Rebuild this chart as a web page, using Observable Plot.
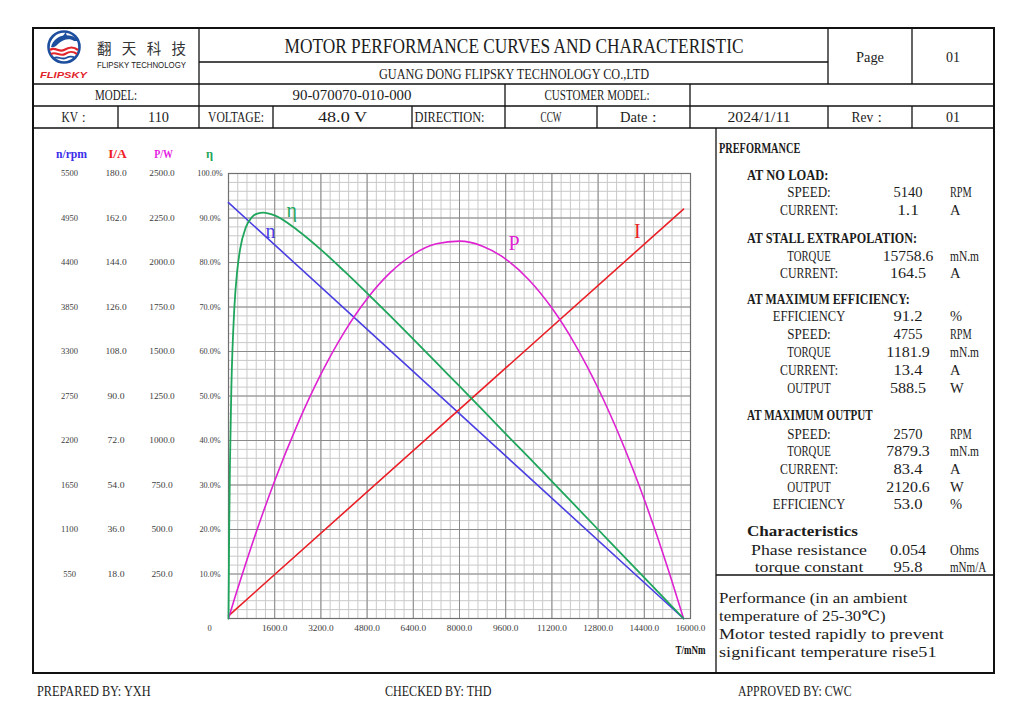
<!DOCTYPE html>
<html><head><meta charset="utf-8">
<script src="https://cdn.jsdelivr.net/npm/d3@7"></script>
<script src="https://cdn.jsdelivr.net/npm/@observablehq/plot@0.6"></script>
<style>
html,body{margin:0;padding:0;background:#fff;}
#page{position:relative;width:1024px;height:726px;overflow:hidden;background:#fff;}
#chart{position:absolute;left:33px;top:128px;}
#overlay{position:absolute;left:0;top:0;pointer-events:none;}
</style></head><body>
<div id="page"><div id="chart"></div><svg id="overlay" width="1024" height="726"></svg></div>
<script>
// ---------- DATA ----------
const torqueTicks = [0,1600,3200,4800,6400,8000,9600,11200,12800,14400,16000];
const rpmTicks = [550,1100,1650,2200,2750,3300,3850,4400,4950,5500];
const currentTicks = [18,36,54,72,90,108,126,144,162,180];
const powerTicks = [250,500,750,1000,1250,1500,1750,2000,2250,2500];
const effTicks = [10,20,30,40,50,60,70,80,90,100];

const speedTorque = [0, 15758.6];
const speedRpm = [5140, 0];
const currentTorque = [0, 15758.6];
const currentAmp = [1.1, 165.6];
const curveTorque = [0,25,50,100,200,300,400,600,800,1000,1200,1400,1600,2400,3200,4000,4800,5600,6400,7200,8000,8800,9600,10400,11200,12000,12800,13600,14400,15200,15758.6];
const powerW = [0,13.4,26.8,53.5,106.3,158.4,209.8,310.7,408.8,504.1,596.7,686.6,773.8,1095.1,1372.7,1606.5,1796.6,1943.1,2045.8,2104.8,2120.0,2091.6,2019.5,1903.5,1743.9,1540.5,1293.5,1002.8,668.2,290.0,0];
const efficiencyPct = [0,20.6,34.5,52.0,69.5,78.0,82.9,87.9,90.1,91.0,91.2,91.0,90.6,87.2,82.9,78.1,73.1,68.0,62.8,57.5,52.2,46.9,41.5,36.2,30.8,25.4,20.0,14.6,9.2,3.8,0];

const axisHeaders = ["n/rpm","I/A","P/W","η"];
const seriesNames = ["n","η","P","I"];
const labelTorque = [1458, 2187, 9891, 14161];
const labelLevel = [87.0, 91.7, 84.3, 87.0];
const xAxisTitle = "T/mNm";

const titleText = "MOTOR PERFORMANCE CURVES AND CHARACTERISTIC";
const companyText = "GUANG DONG FLIPSKY TECHNOLOGY CO.,LTD";
const brandCn = "翻 天 科 技";
const brandEn = "FLIPSKY TECHNOLOGY";
const brandLogo = "FLIPSKY";
const pageLabel = ["Page","01"];
const modelRow = ["MODEL:","90-070070-010-000","CUSTOMER MODEL:",""];
const infoRow = ["KV：","110","VOLTAGE:","48.0  V","DIRECTION:","CCW","Date：","2024/1/11","Rev：","01"];
const perfTitle = "PREFORMANCE";
const perfSections = [
  {title:"AT NO LOAD:", rows:[["SPEED:","5140","RPM"],["CURRENT:","1.1","A"]]},
  {title:"AT STALL EXTRAPOLATION:", rows:[["TORQUE","15758.6","mN.m"],["CURRENT:","164.5","A"]]},
  {title:"AT MAXIMUM EFFICIENCY:", rows:[["EFFICIENCY","91.2","%"],["SPEED:","4755","RPM"],["TORQUE","1181.9","mN.m"],["CURRENT:","13.4","A"],["OUTPUT","588.5","W"]]},
  {title:"AT MAXIMUM OUTPUT", rows:[["SPEED:","2570","RPM"],["TORQUE","7879.3","mN.m"],["CURRENT:","83.4","A"],["OUTPUT","2120.6","W"],["EFFICIENCY","53.0","%"]]},
  {title:"Characteristics", rows:[["Phase resistance","0.054","Ohms"],["torque constant","95.8","mNm/A"]]}
];
const noteLines = ["Performance (in an ambient","temperature of 25-30℃)","Motor tested rapidly to prevent","significant temperature rise51"];
const footer = ["PREPARED BY: YXH","CHECKED BY: THD","APPROVED BY: CWC"];

// ---------- CHART ----------
const SERIF = "'Liberation Serif', 'DejaVu Serif', serif";
const fmt1 = d3.format(".1f");
const rpmMax = d3.max(rpmTicks), ampMax = d3.max(currentTicks), powMax = d3.max(powerTicks);
const speedRows = speedTorque.map((t,i)=>({t, v: speedRpm[i]/rpmMax*100}));
const currentRows = currentTorque.map((t,i)=>({t, v: currentAmp[i]/ampMax*100}));
const powerRows = curveTorque.map((t,i)=>({t, v: powerW[i]/powMax*100}));
const effRows = curveTorque.map((t,i)=>({t, v: efficiencyPct[i]}));

const colors = {n:"#4a3fe2", eta:"#1fa65c", P:"#de22d2", I:"#ea1f27"};
const headerColors = ["#3b2fea", "#f01c26", "#e41ee2", "#1fa65c"];
const seriesColors = [colors.n, colors.eta, colors.P, colors.I];
const frameLeft = 228;
const headerCenters = [71, 117, 163, 209];
const valueCenters = [69, 115.5, 161.5, 209.5];
const valueTicks = [rpmTicks, currentTicks, powerTicks, effTicks];
const valueFormats = [d=>String(d), fmt1, fmt1, d=>fmt1(d)+"%"];
const tickColor = "#3c3c3c";

const marks = [
  Plot.ruleX(d3.range(0,16001,320), {stroke:"#c9c9c9", strokeWidth:1}),
  Plot.ruleY(d3.range(0,101,2), {stroke:"#c9c9c9", strokeWidth:1}),
  Plot.ruleX(torqueTicks, {stroke:"#8a8a8a", strokeWidth:1}),
  Plot.ruleY([0, ...effTicks], {stroke:"#8a8a8a", strokeWidth:1}),
  Plot.frame({stroke:"#707070", strokeWidth:1.2}),
  Plot.line(speedRows, {x:"t", y:"v", stroke:colors.n, strokeWidth:1.6}),
  Plot.line(currentRows, {x:"t", y:"v", stroke:colors.I, strokeWidth:1.6}),
  Plot.line(powerRows, {x:"t", y:"v", stroke:colors.P, strokeWidth:1.6, curve:"monotone-x"}),
  Plot.line(effRows, {x:"t", y:"v", stroke:colors.eta, strokeWidth:1.8, curve:"monotone-x"}),
];
seriesNames.forEach((nm,i)=>{
  marks.push(Plot.text([nm], {x:()=>labelTorque[i], y:()=>labelLevel[i], text:d=>d, fill:seriesColors[i], fontSize:20, fontFamily:SERIF}));
});
axisHeaders.forEach((h,i)=>{
  marks.push(Plot.text([h], {frameAnchor:"top-left", textAnchor:"middle", dx: headerCenters[i]-frameLeft, dy:-24, text:d=>d, fill:headerColors[i], fontSize:12.5, fontWeight:"bold", fontFamily:SERIF}));
  marks.push(Plot.text(effTicks, {y:d=>d, frameAnchor:"left", textAnchor:"middle", dx: valueCenters[i]-frameLeft, text:(d,k)=>valueFormats[i](valueTicks[i][k]), fill:tickColor, fontSize:8.5, fontFamily:SERIF}));
});
marks.push(Plot.text(torqueTicks.slice(1), {x:d=>d, frameAnchor:"bottom", textAnchor:"middle", dy:12, text:d=>fmt1(d), fill:tickColor, fontSize:8.5, fontFamily:SERIF}));
marks.push(Plot.text([torqueTicks[0]], {x:d=>d, frameAnchor:"bottom", textAnchor:"middle", dy:12, dx:-19, text:d=>String(d), fill:tickColor, fontSize:8.5, fontFamily:SERIF}));
marks.push(Plot.text([xAxisTitle], {x:()=>16000, frameAnchor:"bottom", textAnchor:"middle", dy:35, text:d=>d, fill:"#111", fontSize:12, fontWeight:"bold", fontFamily:SERIF}));

const chart = Plot.plot({
  width:683, height:545,
  marginLeft:195, marginRight:26, marginTop:45, marginBottom:55,
  x:{domain:[0,16000], axis:null},
  y:{domain:[0,100], axis:null},
  style:{background:"transparent", overflow:"visible", fontFamily:SERIF},
  marks
});
document.getElementById("chart").appendChild(chart);
// emulate the half-width monospace Latin of the original font
function simLen(s, size){ let n=0; for(const c of s){ n += c.charCodeAt(0)>255 ? 1 : 0.5; } return n*size; }
d3.select(chart).selectAll("text").each(function(){
  const s = this.textContent;
  if (s.length < 2) return;
  let el = this, fs = null;
  while (el && el !== chart && !fs) { fs = el.getAttribute && el.getAttribute("font-size"); el = el.parentNode; }
  fs = parseFloat(fs) || 10;
  this.setAttribute("text-anchor", "middle");
  this.setAttribute("textLength", simLen(s, fs));
  this.setAttribute("lengthAdjust", "spacingAndGlyphs");
});

// ---------- FRAME / TABLES ----------
const svg = d3.select("#overlay");
function L(x1,y1,x2,y2,w=1.3){ svg.append("line").attr("x1",x1).attr("y1",y1).attr("x2",x2).attr("y2",y2).attr("stroke","#111").attr("stroke-width",w); }
function T(x,y,s,o={}){
  const size = o.size||14;
  const t = svg.append("text").attr("x",x).attr("y",y).attr("dy","0.35em")
    .attr("text-anchor",o.anchor||"middle")
    .attr("font-family",o.family||SERIF).attr("font-size",size)
    .attr("fill",o.fill||"#1c1c1c").text(s);
  if (o.weight) t.attr("font-weight",o.weight);
  if (o.fstyle) t.attr("font-style",o.fstyle);
  const len = o.len!==undefined ? o.len : simLen(s,size)*(o.k||1);
  if (len && s.length>1) t.attr("textLength",len).attr("lengthAdjust",o.adjust||"spacingAndGlyphs");
  return t;
}

svg.append("rect").attr("x",33).attr("y",28).attr("width",961).attr("height",645).attr("fill","none").attr("stroke","#111").attr("stroke-width",2);
// horizontal lines
L(199,62,828,62); L(33,84,994,84); L(33,106,994,106); L(33,128,994,128); L(716,575,994,575);
// vertical lines
L(199,28,199,128); L(828,28,828,84); L(912,28,912,84); L(828,106,828,128); L(912,106,912,128);
L(505,84,505,128); L(690,84,690,128);
L(118,106,118,128); L(273,106,273,128); L(412,106,412,128); L(597,106,597,128);
L(716,128,716,673);

// logo
const lg = svg.append("g");
lg.append("circle").attr("cx",64).attr("cy",47).attr("r",15.5).attr("fill","#fff").attr("stroke","#1d4f9e").attr("stroke-width",2.6);
lg.append("path").attr("d","M51,47 C53,38 63,33 72,36 C75,37 77,39 78,41 L74,41 C70,38 63,39 58,44 C56,46 54,48 51,47 Z").attr("fill","#1d4f9e");
lg.append("path").attr("d","M62,37 L66,32 L67,37 Z").attr("fill","#1d4f9e");
lg.append("path").attr("d","M50,50 C55,46 59,53 64,50 S73,46 78,50").attr("fill","none").attr("stroke","#e2262b").attr("stroke-width",2.4);
lg.append("path").attr("d","M51,54 C56,51 60,57 65,54 S73,51 77,54").attr("fill","none").attr("stroke","#e2262b").attr("stroke-width",2.2);
lg.append("path").attr("d","M54,58 C58,56 62,60 66,58 S72,56 75,58").attr("fill","none").attr("stroke","#1d4f9e").attr("stroke-width",1.8);
T(63.5,74.5,brandLogo,{family:"'Liberation Sans', Arial, sans-serif", size:9.5, weight:"bold", fstyle:"italic", fill:"#e2232a", len:47});
T(141.5,49,brandCn,{family:"'Noto Sans CJK SC', sans-serif", size:14.5, fill:"#333", len:89, adjust:"spacing"});
T(141.5,64.5,brandEn,{family:"'Liberation Sans', Arial, sans-serif", size:9, fill:"#222", len:89});

// title rows
T(514,46,titleText,{size:20.5, len:459});
T(514,73.5,companyText,{size:14.5, len:270});
T(870,57,pageLabel[0]); T(953,57,pageLabel[1]);
// model row
const modelCenters = [116, 352, 597, 842];
modelRow.forEach((s,i)=>{ if(s) T(modelCenters[i],95.5,s); });
const infoCenters = [75.5, 158.5, 236, 342.5, 449.5, 551, 641, 759, 869, 953];
infoRow.forEach((s,i)=>T(infoCenters[i],117.5,s));

// performance panel
T(719,147.5,perfTitle,{anchor:"start", size:14.5, weight:"bold", k:1.02});
const sectionY = [175, 237.5, 299, 415, 531];
const rowY = [[192,210],[255.5,272.5],[316,334,352,370,387.5],[433.5,451,468.5,486.5,504],[549.5,566.5]];
perfSections.forEach((sec,si)=>{
  T(747,sectionY[si],sec.title,{anchor:"start", size:14.5, weight:"bold", k:1.02});
  sec.rows.forEach((r,ri)=>{
    const y = rowY[si][ri];
    T(809,y,r[0],{size:14.5});
    T(908,y,r[1],{size:14.5});
    T(950,y,r[2],{anchor:"start", size:14.5});
  });
});
noteLines.forEach((s,i)=>T(719,597.5+i*18,s,{anchor:"start", size:14.5}));

// footer
const footerX = [37, 385, 738];
footer.forEach((s,i)=>T(footerX[i],691,s,{anchor:"start", size:14.2}));
</script>
</body></html>
